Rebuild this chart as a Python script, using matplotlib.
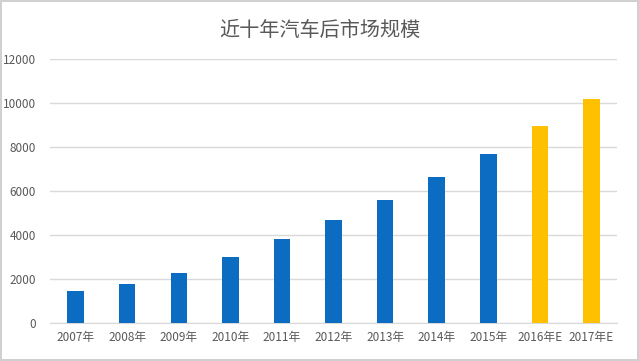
import matplotlib
matplotlib.use('Agg')
import matplotlib.pyplot as plt

plt.rcParams['font.family'] = ['Noto Sans CJK SC', 'DejaVu Sans']

years = ['2007年', '2008年', '2009年', '2010年', '2011年', '2012年',
         '2013年', '2014年', '2015年', '2016年E', '2017年E']
values = [1440, 1770, 2260, 3010, 3830, 4680, 5590, 6620, 7670, 8970, 10190]
colors = ['#0B6CC1'] * 9 + ['#FFC000'] * 2

fig = plt.figure(figsize=(6.39, 3.61), dpi=100)
fig.patch.set_facecolor('white')
fig.patch.set_edgecolor('#d0d0d0')
fig.patch.set_linewidth(1.5)
ax = fig.add_axes([0.078, 0.105, 0.888, 0.732])

x = range(len(years))
ax.bar(x, values, width=0.32, color=colors, zorder=3)

ax.set_xlim(-0.5, len(years) - 0.5)
ax.set_ylim(0, 12000)
ax.set_yticks(range(0, 12001, 2000))
ax.set_xticks(list(x))
ax.set_xticklabels(years)
ax.grid(axis='y', color='#d9d9d9', linewidth=1, zorder=0)
for s in ['top', 'right', 'left']:
    ax.spines[s].set_visible(False)
ax.spines['bottom'].set_color('#d9d9d9')
ax.tick_params(axis='both', length=0, colors='#595959', labelsize=8.5)
ax.tick_params(axis='x', pad=6)
ax.tick_params(axis='y', pad=10)

fig.text(0.5, 0.915, '近十年汽车后市场规模', ha='center', va='center',
         fontsize=14.5, color='#595959', fontweight='light')

fig.savefig('out.png', dpi=100)
